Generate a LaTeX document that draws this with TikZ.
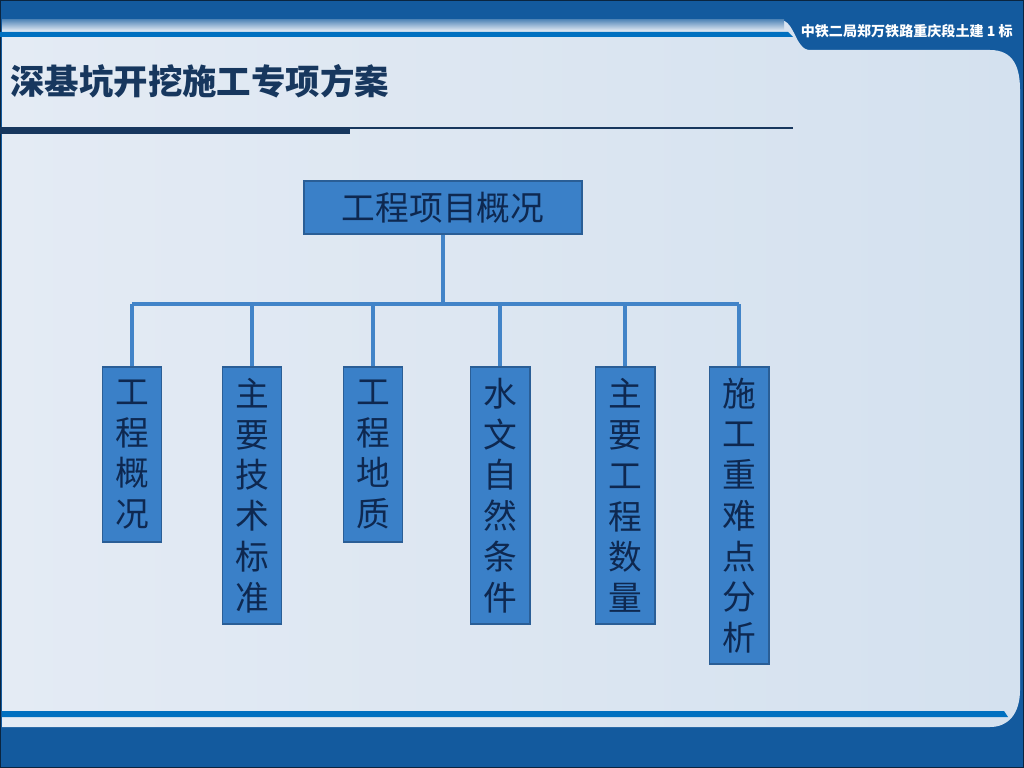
\documentclass[tikz,border=0pt]{standalone}
\usepackage{fontspec}
\newfontfamily\cjk{Noto Sans CJK SC}
\definecolor{frame}{RGB}{10,37,64}
\definecolor{band}{RGB}{19,90,158}
\definecolor{stripe}{RGB}{0,112,192}
\definecolor{navy}{RGB}{23,55,94}
\definecolor{panelL}{RGB}{228,235,244}
\definecolor{panelM}{RGB}{240,244,249}
\definecolor{panelR}{RGB}{212,225,239}
\definecolor{boxfill}{RGB}{58,128,200}
\definecolor{boxline}{RGB}{42,94,150}
\definecolor{boxtext}{RGB}{14,40,80}
\definecolor{conn}{RGB}{66,132,200}
\begin{document}
\begin{tikzpicture}[x=0.025cm,y=-0.025cm,
  box/.style={draw=boxline,line width=1.4pt,fill=boxfill,text=boxtext,
    font=\cjk\fontsize{24}{29}\selectfont,align=center,
    minimum width=1.475cm,inner sep=0pt,anchor=north},
  link/.style={draw=conn,line width=2.8pt}]
\useasboundingbox (0,0) rectangle (1024,768);
\fill[frame] (0,0) rectangle (1024,768);
\fill[band] (1,1) rectangle (1023,767);
\shade[left color=panelL,middle color=panelM,right color=panelR]
  (2,20) -- (780,20) .. controls (795,20) and (795,50) .. (810,50) -- (990,50)
  .. controls (1014,50) and (1020,68) .. (1020,90) -- (1020,690)
  .. controls (1020,714) and (1008,727) .. (990,727) -- (2,727) -- cycle;
\shade[top color=band!70!white,bottom color=panelL] (2,20) rectangle (784,31);
\fill[stripe] (0,32) -- (788,32) -- (793,37) -- (0,37) -- cycle;
\fill[navy] (0,127) rectangle (350,134);
\fill[navy] (350,127) rectangle (793,129.5);
\fill[stripe] (2,711) -- (1004,711) -- (1008,717) -- (2,717) -- cycle;

\node[anchor=east,text=white,font=\cjk\bfseries\fontsize{10}{10}\selectfont,inner sep=0pt]
  (org) at (1013,31) {中铁二局郑万铁路重庆段土建 1 标};
\node[anchor=west,text=navy,font=\cjk\bfseries\fontsize{24.5}{24.5}\selectfont,inner sep=0pt]
  (title) at (10,81) {深基坑开挖施工专项方案};

\node[box,minimum width=6.925cm,minimum height=1.325cm] (top) at (443,180) {工程项目概况};
\node[box,minimum height=4.375cm] (gk) at (132,366) {工\\程\\概\\况};
\node[box,minimum height=6.425cm] (bz) at (252,366) {主\\要\\技\\术\\标\\准};
\node[box,minimum height=4.375cm] (dz) at (373,366) {工\\程\\地\\质};
\node[box,minimum height=6.425cm] (sw) at (500,366) {水\\文\\自\\然\\条\\件};
\node[box,minimum height=6.425cm] (sl) at (625,366) {主\\要\\工\\程\\数\\量};
\node[box,minimum height=7.425cm] (nd) at (739,366) {施\\工\\重\\难\\点\\分\\析};

\coordinate (bar) at (443,304);
\draw[link] (top.south) -- (bar);
\draw[link] (gk.north |- bar) -- (nd.north |- bar);
\foreach \n in {gk,bz,dz,sw,sl,nd}
  \draw[link] (\n.north |- bar) -- (\n.north);
\end{tikzpicture}
\end{document}
